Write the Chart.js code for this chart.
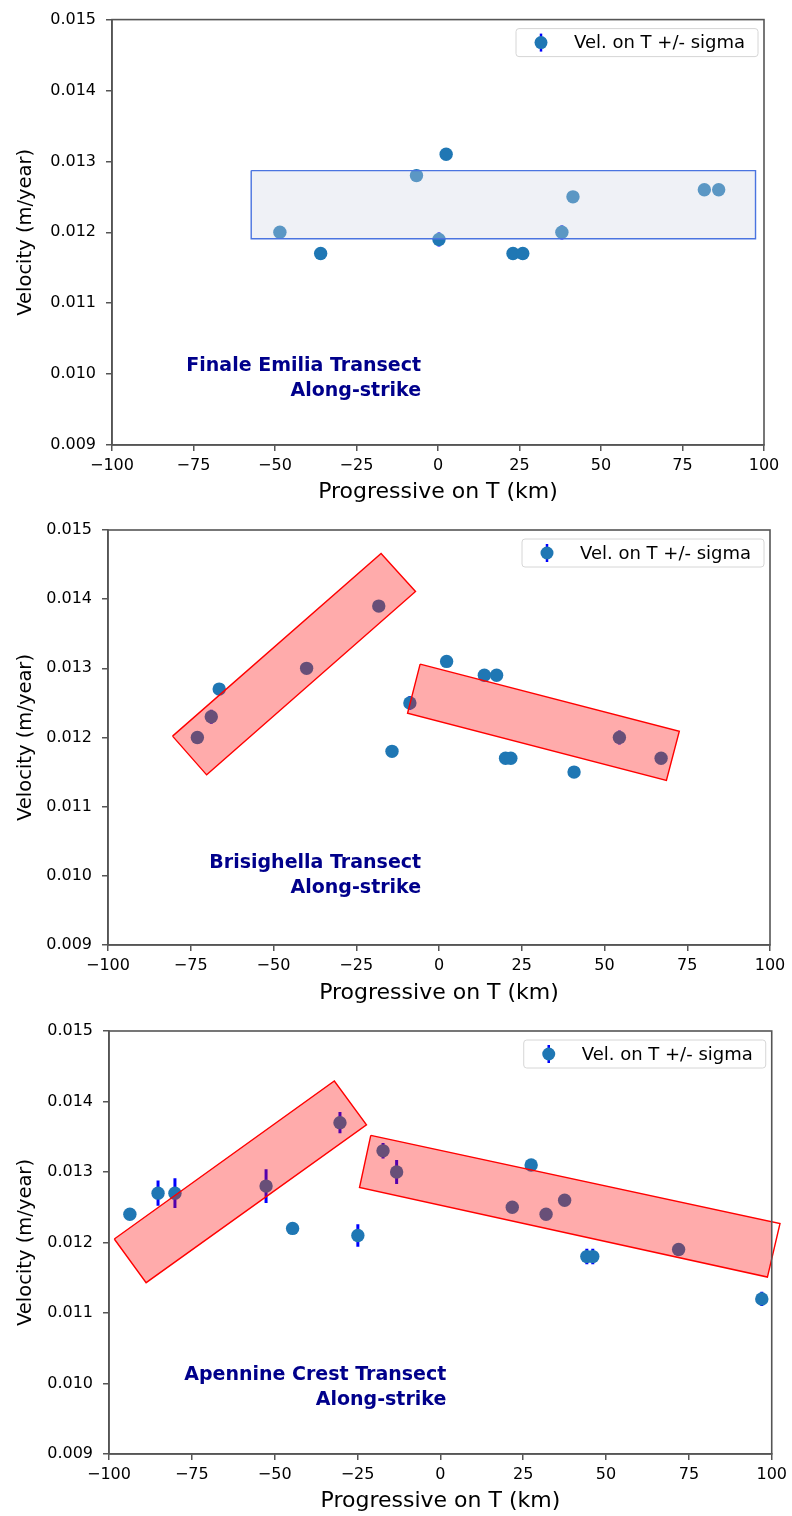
<!DOCTYPE html>
<html><head><meta charset="utf-8">
<script src="https://cdn.jsdelivr.net/npm/chart.js@4.4.0/dist/chart.umd.min.js"></script>
<style>
html,body{margin:0;padding:0;background:#fff;}
body{width:792px;height:1516px;position:relative;overflow:hidden;}
canvas{position:absolute;left:0;}
</style></head><body>
<canvas id="c1" width="792" height="505" style="top:0px"></canvas>
<canvas id="c2" width="792" height="501" style="top:505px"></canvas>
<canvas id="c3" width="792" height="510" style="top:1006px"></canvas>
<script>
// ---------- DATA ----------
const xTicks = [-100, -75, -50, -25, 0, 25, 50, 75, 100];
const yTicks = [0.009, 0.010, 0.011, 0.012, 0.013, 0.014, 0.015];
const legendLabel = 'Vel. on T +/- sigma';

// Finale Emilia
const feProg  = [-48.5, -36, -6.6, 2.5, 0.3, 23, 26, 38, 41.4, 81.7, 86.1];
const feVel   = [0.0120, 0.0117, 0.0128, 0.0131, 0.0119, 0.0117, 0.0117, 0.0120, 0.0125, 0.0126, 0.0126];
const feSigma = [0.00004, 0.00004, 0.00004, 0.00005, 0.0001, 0.00004, 0.00004, 0.0001, 0.00004, 0.00004, 0.00004];
const feBoxProg = [-57.3, 97.4, 97.4, -57.3];
const feBoxVel  = [0.01287, 0.01287, 0.01191, 0.01191];

// Brisighella
const brProg  = [-73, -68.8, -66.4, -40, -18.2, -14.2, -8.8, 2.3, 13.7, 17.4, 20.1, 21.7, 40.8, 54.5, 67.1];
const brVel   = [0.0120, 0.0123, 0.0127, 0.0130, 0.0139, 0.0118, 0.0125, 0.0131, 0.0129, 0.0129, 0.0117, 0.0117, 0.0115, 0.0120, 0.0117];
const brSigma = [0.00004, 0.0001, 0.00004, 0.00004, 0.00005, 0.00004, 0.0001, 0.00004, 0.00004, 0.00004, 0.00004, 0.00004, 0.00004, 0.0001, 0.00004];
const brBoxAProg = [-80.5, -17.5, -7.1, -70.2];
const brBoxAVel  = [0.01202, 0.01466, 0.01411, 0.01146];
const brBoxBProg = [-5.7, 72.6, 68.7, -9.5];
const brBoxBVel  = [0.01306, 0.01209, 0.01138, 0.01235];

// Apennine Crest
const apProg  = [-93.7, -85.2, -80.1, -52.6, -44.6, -30.3, -24.9, -17.3, -13.2, 21.7, 27.4, 31.9, 37.5, 44.2, 46.0, 71.9, 97];
const apVel   = [0.0124, 0.0127, 0.0127, 0.0128, 0.0122, 0.0137, 0.0121, 0.0133, 0.0130, 0.0125, 0.0131, 0.0124, 0.0126, 0.0118, 0.0118, 0.0119, 0.0112];
const apSigma = [0.00004, 0.00018, 0.00021, 0.00024, 0.00004, 0.00015, 0.00016, 0.00011, 0.00017, 0.00004, 0.00004, 0.00004, 0.00007, 0.00011, 0.00011, 0.00004, 0.0001];
const apBoxAProg = [-98.4, -32, -22.3, -88.8];
const apBoxAVel  = [0.01205, 0.01429, 0.01367, 0.01143];
const apBoxBProg = [-21, 102.5, 98.7, -24.4];
const apBoxBVel  = [0.01352, 0.01227, 0.01151, 0.01278];

// ---------- STYLE ----------
const FONT = 'DejaVu Sans';
const AXIS_COLOR = '#555';
const PT_COLOR = '#1f77b4';
const ERR_COLOR = '#0000ff';
const GRAY_FILL = 'rgba(209,213,228,0.34)', GRAY_EDGE = '#4a74e0';
const RED_FILL = 'rgba(255,0,0,0.33)', RED_EDGE = '#ff0000';

const framePlugin = {
  id: 'frame',
  afterDraw(chart) {
    const {ctx, chartArea: a} = chart;
    ctx.save();
    ctx.strokeStyle = AXIS_COLOR; ctx.lineWidth = 1.6;
    ctx.strokeRect(a.left, a.top, a.right - a.left, a.bottom - a.top);
    ctx.restore();
  }
};

const legendPlugin = {
  id: 'mplLegend',
  afterDraw(chart) {
    const {ctx, chartArea: a} = chart;
    const w = 242, h = 28, x = a.right - 6 - w, y = a.top + 9;
    ctx.save();
    ctx.beginPath();
    ctx.roundRect(x, y, w, h, 3);
    ctx.fillStyle = 'rgba(255,255,255,0.85)';
    ctx.fill();
    ctx.strokeStyle = '#d6d6d6'; ctx.lineWidth = 1;
    ctx.stroke();
    const mx = x + 25, my = y + h / 2;
    ctx.beginPath();
    ctx.strokeStyle = ERR_COLOR; ctx.lineWidth = 2.5;
    ctx.moveTo(mx, my - 9); ctx.lineTo(mx, my + 9); ctx.stroke();
    ctx.beginPath();
    ctx.fillStyle = PT_COLOR;
    ctx.arc(mx, my, 6.5, 0, Math.PI * 2); ctx.fill();
    ctx.fillStyle = '#000';
    ctx.font = '18px "' + FONT + '"';
    ctx.textBaseline = 'middle';
    ctx.textAlign = 'left';
    ctx.fillText(legendLabel, x + 58, my + 1);
    ctx.restore();
  }
};

const annotPlugin = {
  id: 'annot',
  afterDraw(chart) {
    const o = chart.options.plugins.annot;
    if (!o) return;
    const {ctx, scales} = chart;
    const px = scales.x.getPixelForValue(o.x);
    const py = scales.y.getPixelForValue(o.y);
    ctx.save();
    ctx.font = 'bold 19px "' + FONT + '"';
    ctx.fillStyle = '#00008b';
    ctx.textAlign = 'right';
    ctx.textBaseline = 'alphabetic';
    o.lines.forEach((t, i) => ctx.fillText(t, px, py + i * 25));
    ctx.restore();
  }
};

function makeChart(id, cfg) {
  const pts = cfg.prog.map((x, i) => ({x: x, y: cfg.vel[i]}));
  const err = [];
  cfg.prog.forEach((x, i) => {
    err.push({x: x, y: cfg.vel[i] - cfg.sigma[i]}, {x: x, y: cfg.vel[i] + cfg.sigma[i]}, {x: x, y: null});
  });
  const datasets = [];
  cfg.boxes.forEach(b => {
    const d = b.prog.map((x, i) => ({x: x, y: b.vel[i]}));
    d.push(d[0]);
    datasets.push({type: 'line', data: d, fill: 'shape', backgroundColor: b.fill, borderColor: b.edge,
      borderWidth: 1.4, pointRadius: 0, tension: 0, order: 0, clip: false, spanGaps: true});
  });
  datasets.push({type: 'scatter', label: legendLabel, data: pts, pointRadius: 6.7, pointHoverRadius: 6.7,
    backgroundColor: PT_COLOR, pointBackgroundColor: PT_COLOR, pointBorderWidth: 0, borderWidth: 0, order: 1});
  datasets.push({type: 'line', data: err, borderColor: ERR_COLOR, borderWidth: 3, pointRadius: 0,
    spanGaps: false, fill: false, order: 2, borderCapStyle: 'butt'});

  return new Chart(document.getElementById(id), {
    type: 'scatter',
    data: {datasets: datasets},
    options: {
      responsive: false, animation: false, events: [],
      layout: {padding: {top: cfg.padTop, right: cfg.padRight, bottom: cfg.padBottom, left: 0}},
      plugins: {legend: {display: false}, tooltip: {enabled: false}, annot: cfg.annot},
      scales: {
        x: {
          type: 'linear', min: -100, max: 100,
          afterBuildTicks: s => { s.ticks = xTicks.map(v => ({value: v})); },
          afterFit: s => { s.height = cfg.xAxisH; },
          ticks: {font: {family: FONT, size: 16}, color: '#000', padding: 5, maxRotation: 0, autoSkip: false,
            callback: v => String(v).replace('-', '\u2212')},
          grid: {drawOnChartArea: false, drawTicks: true, tickLength: 6, color: AXIS_COLOR, lineWidth: 1.5},
          border: {display: true, color: AXIS_COLOR, width: 1.6},
          title: {display: true, text: 'Progressive on T (km)', font: {family: FONT, size: 22}, color: '#000',
            padding: {top: 0, bottom: 0}}
        },
        y: {
          type: 'linear', min: 0.009, max: 0.015,
          afterBuildTicks: s => { s.ticks = yTicks.map(v => ({value: v})); },
          afterFit: s => { s.width = cfg.yAxisW; },
          ticks: {font: {family: FONT, size: 16}, color: '#000', padding: 10, callback: v => v.toFixed(3)},
          grid: {drawOnChartArea: false, drawTicks: true, tickLength: 6, color: AXIS_COLOR, lineWidth: 1.5},
          border: {display: true, color: AXIS_COLOR, width: 1.6},
          title: {display: true, text: 'Velocity (m/year)', font: {family: FONT, size: 19.5}, color: '#000',
            padding: {top: 14, bottom: 0}}
        }
      }
    },
    plugins: [framePlugin, legendPlugin, annotPlugin]
  });
}

makeChart('c1', {
  prog: feProg, vel: feVel, sigma: feSigma,
  boxes: [{prog: feBoxProg, vel: feBoxVel, fill: GRAY_FILL, edge: GRAY_EDGE}],
  padTop: 17, padRight: 28, padBottom: 0, xAxisH: 60, yAxisW: 112,
  annot: {x: -5.2, y: 0.01005, lines: ['Finale Emilia Transect', 'Along-strike']}
});
makeChart('c2', {
  prog: brProg, vel: brVel, sigma: brSigma,
  boxes: [{prog: brBoxAProg, vel: brBoxAVel, fill: RED_FILL, edge: RED_EDGE},
          {prog: brBoxBProg, vel: brBoxBVel, fill: RED_FILL, edge: RED_EDGE}],
  padTop: 25, padRight: 22, padBottom: 0, xAxisH: 61, yAxisW: 108,
  annot: {x: -5.4, y: 0.01011, lines: ['Brisighella Transect', 'Along-strike']}
});
makeChart('c3', {
  prog: apProg, vel: apVel, sigma: apSigma,
  boxes: [{prog: apBoxAProg, vel: apBoxAVel, fill: RED_FILL, edge: RED_EDGE},
          {prog: apBoxBProg, vel: apBoxBVel, fill: RED_FILL, edge: RED_EDGE}],
  padTop: 25, padRight: 20, padBottom: 2, xAxisH: 60, yAxisW: 109,
  annot: {x: 1.8, y: 0.01005, lines: ['Apennine Crest Transect', 'Along-strike']}
});
</script></body></html>
